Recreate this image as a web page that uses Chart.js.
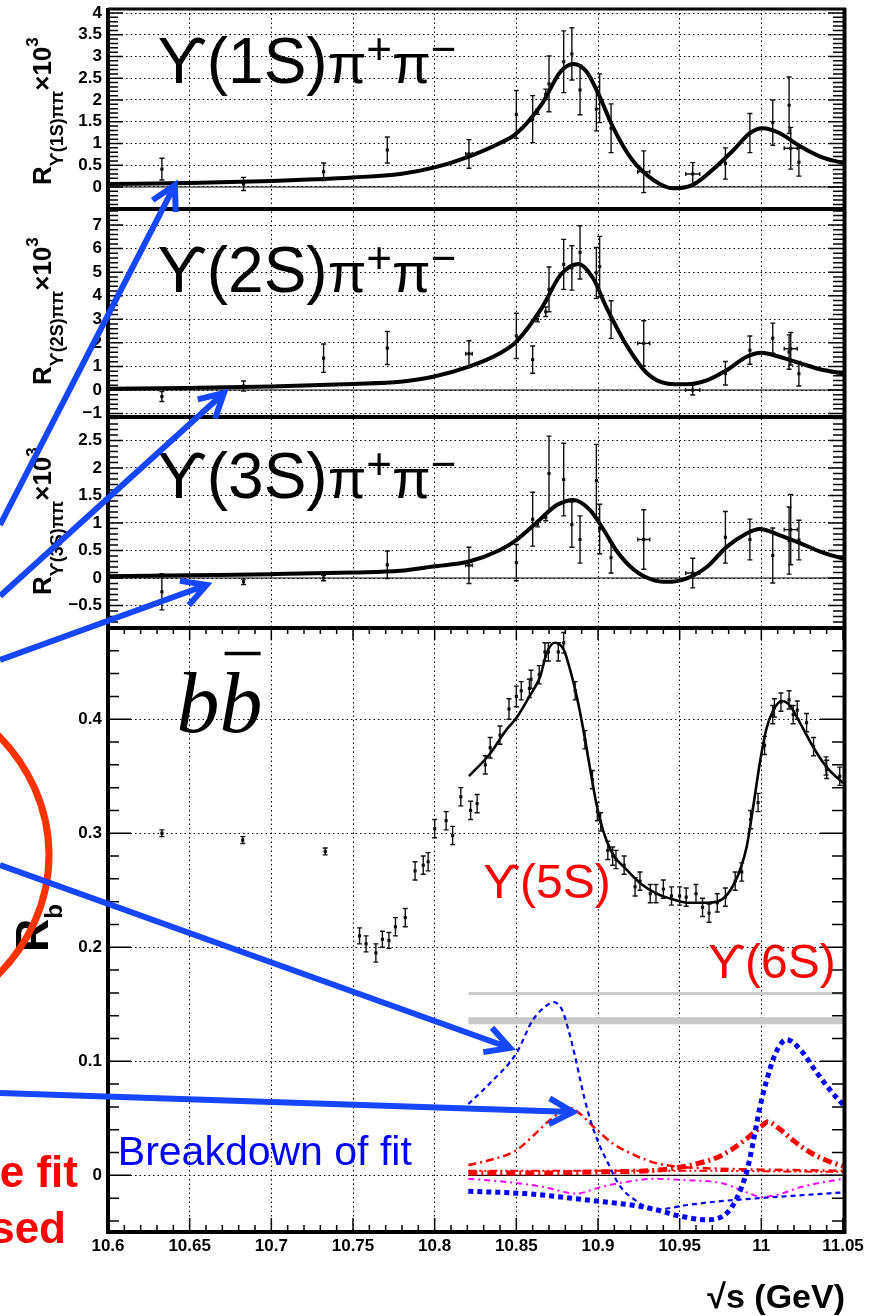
<!DOCTYPE html>
<html lang="en">
<head>
<meta charset="UTF-8" />
<title>Energy scan: R(Upsilon(nS) pi pi) and Rb</title>
<script src="https://cdn.jsdelivr.net/npm/chart.js"></script>
<style>
  body { margin: 0; background: #fff; }
  #wrap { position: relative; width: 884px; height: 1316px; }
</style>
</head>
<body>
<div id="wrap"><canvas id="scan" width="884" height="1316"></canvas></div>
<script>
// ---- data -------------------------------------------------------------
const xTicks = [10.6, 10.65, 10.7, 10.75, 10.8, 10.85, 10.9, 10.95, 11, 11.05];
const ticks1S = [0, 0.5, 1, 1.5, 2, 2.5, 3, 3.5, 4];
const ticks2S = [-1, 0, 1, 2, 3, 4, 5, 6, 7];
const ticks3S = [-0.5, 0, 0.5, 1, 1.5, 2, 2.5];
const ticksRb = [0, 0.1, 0.2, 0.3, 0.4];

// scan energies used for the pi pi channels (GeV)
const energy = [10.633, 10.683, 10.732, 10.771, 10.821, 10.850, 10.860, 10.863, 10.868, 10.870,
                10.879, 10.884, 10.889, 10.899, 10.901, 10.908, 10.928, 10.958, 10.978, 10.993,
                11.007, 11.017, 11.018, 11.023];
const energyErr = [0, 0, 0, 0, 0.002, 0, 0, 0, 0, 0, 0, 0, 0, 0, 0, 0, 0.0037, 0.0043, 0, 0, 0, 0, 0.004, 0];

const r1S = [0.41, 0.07, 0.35, 0.85, 0.76, 1.67, 1.56, 1.73, 2.13, 2.37, 2.88, 3.06, 2.23, 1.79, 2.04,
             1.35, 0.35, 0.30, 0.54, 1.24, 1.48, 1.88, 0.89, 0.57];
const r1SErr = [0.25, 0.15, 0.20, 0.30, 0.33, 0.55, 0.54, 0.06, 0.12, 0.64, 0.71, 0.60, 0.57, 0.50, 0.56,
                0.56, 0.48, 0.26, 0.36, 0.45, 0.52, 0.65, 0.48, 0.32];
const r2S = [-0.28, 0.17, 1.35, 1.78, 1.54, 2.30, 1.29, 3.01, 3.32, 4.27, 5.33, 5.18, 5.84, 4.97, 5.24,
             2.99, 1.98, 0.00, 0.71, 1.69, 2.20, 1.61, 1.75, 0.69];
const r2SErr = [0.21, 0.21, 0.60, 0.70, 0.55, 0.96, 0.58, 0.12, 0.20, 0.95, 1.06, 0.94, 1.13, 1.08, 1.28,
                0.80, 0.96, 0.21, 0.50, 0.60, 0.64, 0.73, 0.69, 0.52];
const r3S = [-0.25, -0.07, 0.00, 0.24, 0.23, 0.28, 1.07, 0.98, 1.10, 1.90, 1.79, 0.97, 0.70, 1.77, 0.89,
             0.37, 0.70, 0.09, 0.74, 0.70, 0.41, 0.68, 0.88, 0.69];
const r3SErr = [0.33, 0.05, 0.05, 0.25, 0.33, 0.33, 0.49, 0.05, 0.06, 0.68, 0.66, 0.41, 0.43, 0.66, 0.45,
                0.28, 0.54, 0.27, 0.47, 0.37, 0.50, 0.61, 0.64, 0.36];

// fitted line shapes for the pi pi channels
const fit1SX = [10.60, 10.65, 10.70, 10.75, 10.779, 10.80, 10.821, 10.840, 10.850, 10.866, 10.877, 10.885,
                10.893, 10.901, 10.909, 10.921, 10.934, 10.946, 10.958, 10.970, 10.983, 10.993, 11.001,
                11.011, 11.024, 11.036, 11.05];
const fit1S = [0.07, 0.09, 0.14, 0.22, 0.30, 0.45, 0.70, 1.01, 1.23, 1.93, 2.65, 2.83, 2.65, 2.08, 1.39,
               0.62, 0.16, -0.03, 0.05, 0.39, 0.85, 1.24, 1.35, 1.24, 0.93, 0.70, 0.55];
const fit2SX = [10.60, 10.65, 10.70, 10.75, 10.779, 10.799, 10.821, 10.840, 10.850, 10.866, 10.877, 10.888,
                10.897, 10.905, 10.918, 10.930, 10.942, 10.954, 10.967, 10.979, 10.991, 11.000, 11.011,
                11.024, 11.036, 11.05];
const fit2S = [0.05, 0.09, 0.15, 0.26, 0.35, 0.56, 0.99, 1.56, 2.05, 3.53, 4.88, 5.35, 4.74, 3.53, 1.84,
               0.71, 0.28, 0.24, 0.42, 0.85, 1.41, 1.58, 1.41, 1.13, 0.88, 0.70];
const fit3SX = [10.60, 10.65, 10.70, 10.75, 10.779, 10.799, 10.821, 10.840, 10.850, 10.864, 10.875, 10.885,
                10.895, 10.903, 10.911, 10.922, 10.934, 10.942, 10.954, 10.967, 10.979, 10.991, 10.999,
                11.011, 11.024, 11.036, 11.05];
const fit3S = [0.03, 0.05, 0.07, 0.10, 0.13, 0.21, 0.30, 0.51, 0.69, 1.05, 1.33, 1.42, 1.24, 0.90, 0.51,
               0.15, -0.04, -0.07, -0.01, 0.21, 0.57, 0.81, 0.89, 0.78, 0.63, 0.48, 0.35];

// Rb scan
const rbEnergy = [10.633, 10.6825, 10.733, 10.754, 10.758, 10.764, 10.768, 10.772, 10.776, 10.782,
                  10.788, 10.793, 10.796, 10.800, 10.807, 10.811, 10.816, 10.822, 10.826, 10.831,
                  10.834, 10.840, 10.8455, 10.850, 10.853, 10.858, 10.859, 10.864, 10.8675, 10.8696,
                  10.8757, 10.879, 10.886, 10.892, 10.8966, 10.8996, 10.9016, 10.906, 10.909, 10.911,
                  10.916, 10.9227, 10.9257, 10.932, 10.9355, 10.940, 10.945, 10.950, 10.954, 10.960,
                  10.964, 10.968, 10.973, 10.978, 10.984, 10.988, 10.9934, 10.998, 11.002, 11.007,
                  11.008, 11.012, 11.017, 11.0195, 11.022, 11.0277, 11.032, 11.0396, 11.040, 11.048];
const rb = [0.300, 0.294, 0.284, 0.210, 0.203, 0.195, 0.207, 0.206, 0.218, 0.226,
            0.267, 0.272, 0.275, 0.304, 0.311, 0.298, 0.332, 0.320, 0.326, 0.360,
            0.375, 0.386, 0.409, 0.420, 0.425, 0.427, 0.435, 0.439, 0.459, 0.459,
            0.459, 0.467, 0.425, 0.382, 0.347, 0.319, 0.310, 0.285, 0.280, 0.277,
            0.272, 0.253, 0.258, 0.247, 0.247, 0.251, 0.245, 0.245, 0.244, 0.247,
            0.235, 0.230, 0.239, 0.244, 0.258, 0.266, 0.312, 0.327, 0.377, 0.404,
            0.410, 0.415, 0.417, 0.404, 0.408, 0.397, 0.376, 0.359, 0.356, 0.350];
const rbErr = [0.003, 0.003, 0.003, 0.007, 0.007, 0.008, 0.007, 0.007, 0.008, 0.008,
               0.008, 0.008, 0.008, 0.008, 0.008, 0.008, 0.008, 0.008, 0.008, 0.008,
               0.009, 0.008, 0.009, 0.009, 0.008, 0.008, 0.008, 0.008, 0.008, 0.008,
               0.008, 0.009, 0.008, 0.008, 0.008, 0.008, 0.008, 0.008, 0.008, 0.008,
               0.008, 0.008, 0.008, 0.008, 0.008, 0.008, 0.008, 0.008, 0.008, 0.008,
               0.008, 0.008, 0.008, 0.008, 0.008, 0.008, 0.008, 0.008, 0.008, 0.008,
               0.008, 0.008, 0.008, 0.008, 0.008, 0.008, 0.008, 0.008, 0.008, 0.008];

const rbFitX = [10.821, 10.834, 10.844, 10.850, 10.858, 10.8645, 10.8686, 10.8737, 10.879, 10.883, 10.887,
                10.891, 10.895, 10.899, 10.903, 10.909, 10.9175, 10.926, 10.936, 10.946, 10.956, 10.9665,
                10.9747, 10.981, 10.987, 10.991, 10.995, 10.999, 11.003, 11.007, 11.0124, 11.0175, 11.024,
                11.032, 11.040, 11.05];
const rbFit = [0.350, 0.370, 0.391, 0.401, 0.420, 0.437, 0.458, 0.467, 0.461, 0.443, 0.420,
               0.391, 0.358, 0.326, 0.303, 0.282, 0.268, 0.256, 0.247, 0.242, 0.239, 0.239,
               0.241, 0.250, 0.268, 0.288, 0.323, 0.361, 0.391, 0.407, 0.416, 0.412, 0.396,
               0.375, 0.358, 0.344];

// fit breakdown
const comp5SX = [10.8206, 10.834, 10.850, 10.860, 10.8686, 10.8727, 10.878, 10.882, 10.886, 10.890, 10.894,
                 10.899, 10.9067, 10.913, 10.923, 10.935, 10.955, 10.9725, 11.003, 11.05];
const comp5S = [0.0625, 0.081, 0.107, 0.136, 0.149, 0.152, 0.145, 0.127, 0.104, 0.078, 0.055,
                0.033, 0.009, -0.0085, -0.022, -0.030, -0.026, -0.023, -0.0196, -0.015];
const comp6SX = [10.8206, 10.855, 10.896, 10.927, 10.935, 10.951, 10.967, 10.979, 10.985, 10.991, 10.995,
                 10.999, 11.003, 11.009, 11.0155, 11.024, 11.034, 11.042, 11.05];
const comp6S = [-0.014, -0.016, -0.022, -0.0275, -0.030, -0.036, -0.039, -0.033, -0.020, 0.003, 0.029,
                0.059, 0.082, 0.108, 0.119, 0.110, 0.090, 0.075, 0.062];
const int5SX = [10.8206, 10.834, 10.850, 10.862, 10.8706, 10.883, 10.889, 10.897, 10.909, 10.922, 10.936,
                10.950, 10.97, 11.0, 11.05];
const int5S = [0.009, 0.0134, 0.022, 0.037, 0.0485, 0.059, 0.054, 0.043, 0.028, 0.018, 0.0105,
               0.0075, 0.006, 0.005, 0.004];
const int6SX = [10.8206, 10.86, 10.90, 10.94, 10.96, 10.975, 10.99, 11.0, 11.004, 11.01, 11.02, 11.03, 11.04, 11.05];
const int6S = [0.002, 0.002, 0.003, 0.005, 0.010, 0.017, 0.031, 0.043, 0.047, 0.042, 0.030, 0.020, 0.013, 0.008];
const flatX = [10.8206, 10.95, 11.05];
const flat = [0.004, 0.004, 0.003];
const crossX = [10.8206, 10.845, 10.866, 10.887, 10.90, 10.916, 10.936, 10.95, 10.976, 10.993, 11.0, 11.01, 11.025, 11.05];
const cross = [-0.003, -0.006, -0.010, -0.016, -0.011, -0.006, -0.003, -0.004, -0.007, -0.016, -0.019, -0.017, -0.010, -0.003];

const bandX = [10.8206, 11.05];
const bandLevels = [0.1595, 0.1356];

// ---- panels -----------------------------------------------------------
const panels = [
  { id: 'y1', min: -0.506, max: 4.092, weight: 200, ticks: ticks1S, minor: 0.1, major: 0.5, len: [10, 15] },
  { id: 'y2', min: -1.145, max: 7.68, weight: 208, ticks: ticks2S, minor: 0.2, major: 1, len: [10, 15] },
  { id: 'y3', min: -0.909, max: 2.927, weight: 211, ticks: ticks3S, minor: 0.1, major: 0.5, len: [10, 15] },
  { id: 'yRb', min: -0.0497, max: 0.480, weight: 604, ticks: ticksRb, minor: 0.02, major: 0.1, len: [11, 23] }
];

const FONT = 'Liberation Sans';
const UPS = '\u03D2';
const fmt = v => (v < 0 ? '\u2212' : '') + String(Math.abs(Math.round(v * 100) / 100));
const pts = (xs, ys) => xs.map((x, i) => ({ x, y: ys[i] }));

const datasets = [];
function addPoints(axis, xs, ys, errY, errX) {
  datasets.push({ type: 'scatter', yAxisID: axis, data: pts(xs, ys), errY, errX,
    pointStyle: 'rect', pointRadius: 2.2, backgroundColor: '#000', borderWidth: 0, order: 0 });
}
function addCurve(axis, xs, ys, color, width, dash, order) {
  datasets.push({ type: 'line', yAxisID: axis, data: pts(xs, ys), borderColor: color, borderWidth: width,
    borderDash: dash, pointRadius: 0, fill: false, cubicInterpolationMode: 'monotone', order });
}

addPoints('y1', energy, r1S, r1SErr, energyErr);
addPoints('y2', energy, r2S, r2SErr, energyErr);
addPoints('y3', energy, r3S, r3SErr, energyErr);
addPoints('yRb', rbEnergy, rb, rbErr, null);

addCurve('y1', fit1SX, fit1S, '#000', 4, [], 1);
addCurve('y2', fit2SX, fit2S, '#000', 4, [], 1);
addCurve('y3', fit3SX, fit3S, '#000', 4, [], 1);
addCurve('yRb', rbFitX, rbFit, '#000', 2.6, [], 1);

addCurve('y1', [10.6, 11.05], [0, 0], '#000', 1.2, [], 3);
addCurve('y2', [10.6, 11.05], [0, 0], '#000', 1.2, [], 3);
addCurve('y3', [10.6, 11.05], [0, 0], '#000', 1.2, [], 3);
addCurve('yRb', [10.8206, 11.05], [0, 0], '#000', 1.2, [], 3);

addCurve('yRb', comp5SX, comp5S, '#0000ff', 2.2, [5, 4], 2);
addCurve('yRb', comp6SX, comp6S, '#0000ff', 5, [5, 4], 2);
addCurve('yRb', int5SX, int5S, '#ff0000', 2.5, [8, 4, 2, 4], 2);
addCurve('yRb', int6SX, int6S, '#ff0000', 5, [9, 4, 2, 4], 2);
addCurve('yRb', flatX, flat, '#ff0000', 2, [8, 3, 2, 3, 2, 3], 2);
addCurve('yRb', crossX, cross, '#ff00ff', 2, [6, 4, 2, 4], 2);

addCurve('yRb', bandX, [bandLevels[0], bandLevels[0]], '#cccccc', 3, [], 4);
addCurve('yRb', bandX, [bandLevels[1], bandLevels[1]], '#c8c8c8', 7, [], 4);

// ---- scales -----------------------------------------------------------
const scales = {
  x: {
    type: 'linear', position: 'bottom', min: 10.6, max: 11.05,
    afterBuildTicks: s => { s.ticks = xTicks.map(v => ({ value: v })); },
    afterFit: s => { s.height = 80; s.paddingLeft = 0; s.paddingRight = 0; },
    ticks: { autoSkip: false, maxRotation: 0, padding: 4, color: '#000',
      font: { family: FONT, weight: 'bold', size: 17 }, callback: v => fmt(v) },
    grid: { color: '#000', lineWidth: 1, drawTicks: false },
    border: { display: false, dash: [1.5, 3] }
  }
};
// bottom panel first: the last left-hand scale is stacked at the top
panels.slice().reverse().forEach((p, i) => {
  scales[p.id] = {
    type: 'linear', position: 'left', stack: 'panels', stackWeight: p.weight, weight: i,
    min: p.min, max: p.max,
    afterBuildTicks: s => { s.ticks = p.ticks.map(v => ({ value: v })); },
    // no extra room for the end labels, the frame sits at the layout padding
    afterFit: s => { s.width = 100; s.paddingTop = 0; s.paddingBottom = 0; },
    ticks: { autoSkip: false, padding: 6, color: '#000',
      font: { family: FONT, weight: 'bold', size: 17 }, callback: v => fmt(v) },
    grid: { color: '#000', lineWidth: 1, drawTicks: false },
    border: { display: false, dash: [1.5, 3] }
  };
});

// ---- plugins ----------------------------------------------------------
const framePlugin = {
  id: 'frame',
  afterDatasetsDraw(chart) {
    const { ctx, chartArea: a, scales: sc } = chart;
    const xs = sc.x;
    ctx.save();

    // error bars
    ctx.strokeStyle = '#111';
    ctx.lineWidth = 1.4;
    chart.data.datasets.forEach(ds => {
      if (!ds.errY) return;
      const ys = sc[ds.yAxisID];
      ds.data.forEach((p, j) => {
        const px = xs.getPixelForValue(p.x);
        const lo = ys.getPixelForValue(p.y - ds.errY[j]);
        const hi = ys.getPixelForValue(p.y + ds.errY[j]);
        ctx.beginPath();
        ctx.moveTo(px, lo); ctx.lineTo(px, hi);
        ctx.moveTo(px - 2.5, lo); ctx.lineTo(px + 2.5, lo);
        ctx.moveTo(px - 2.5, hi); ctx.lineTo(px + 2.5, hi);
        if (ds.errX && ds.errX[j]) {
          const py = ys.getPixelForValue(p.y);
          const l = xs.getPixelForValue(p.x - ds.errX[j]);
          const r = xs.getPixelForValue(p.x + ds.errX[j]);
          ctx.moveTo(l, py); ctx.lineTo(r, py);
          ctx.moveTo(l, py - 2); ctx.lineTo(l, py + 2);
          ctx.moveTo(r, py - 2); ctx.lineTo(r, py + 2);
        }
        ctx.stroke();
      });
    });

    // tick marks inside the frames
    ctx.strokeStyle = '#000';
    ctx.lineWidth = 1.5;
    panels.forEach(p => {
      const s = sc[p.id];
      const k0 = Math.ceil(p.min / p.minor - 1e-6), k1 = Math.floor(p.max / p.minor + 1e-6);
      ctx.beginPath();
      for (let k = k0; k <= k1; k++) {
        const v = k * p.minor;
        const isMajor = Math.abs(v / p.major - Math.round(v / p.major)) < 1e-6;
        const L = isMajor ? p.len[1] : p.len[0];
        const y = s.getPixelForValue(v);
        ctx.moveTo(a.left, y); ctx.lineTo(a.left + L, y);
        ctx.moveTo(a.right, y); ctx.lineTo(a.right - L, y);
      }
      ctx.stroke();
    });
    const rbTop = sc.yRb.top;
    ctx.beginPath();
    for (let k = 0; k <= 45; k++) {
      const x = xs.getPixelForValue(10.6 + k * 0.01);
      const major = k % 5 === 0;
      ctx.moveTo(x, a.bottom); ctx.lineTo(x, a.bottom - (major ? 14 : 7));
      ctx.moveTo(x, rbTop); ctx.lineTo(x, rbTop + (major ? 12 : 6));
    }
    ctx.stroke();

    // frame and panel separators
    ctx.lineWidth = 4;
    ctx.beginPath();
    ctx.moveTo(a.left, a.top - 1); ctx.lineTo(a.left, a.bottom + 2);
    ctx.moveTo(a.right + 1.5, a.top - 1); ctx.lineTo(a.right + 1.5, a.bottom + 2);
    ctx.moveTo(a.left - 2, a.bottom); ctx.lineTo(a.right + 3.5, a.bottom);
    ctx.stroke();
    ctx.lineWidth = 3;
    ctx.beginPath();
    ctx.moveTo(a.left, a.top); ctx.lineTo(a.right + 3, a.top);
    ctx.stroke();
    ctx.lineWidth = 4;
    ctx.beginPath();
    ['y2', 'y3', 'yRb'].forEach(id => {
      ctx.moveTo(a.left, sc[id].top); ctx.lineTo(a.right + 3, sc[id].top);
    });
    ctx.stroke();
    ctx.restore();
  }
};

// text pieces drawn one after another along a (possibly rotated) baseline
function drawRuns(ctx, x, y, runs, angle) {
  ctx.save();
  ctx.translate(x, y);
  if (angle) ctx.rotate(angle);
  ctx.textBaseline = 'alphabetic';
  ctx.textAlign = 'left';
  let cx = 0;
  runs.forEach(([text, font, dy]) => {
    ctx.font = font;
    ctx.fillText(text, cx, dy);
    cx += ctx.measureText(text).width;
  });
  ctx.restore();
}

function arrow(ctx, x0, y0, x1, y1) {
  const ang = Math.atan2(y1 - y0, x1 - x0);
  const L = 27, spread = 0.5;
  ctx.beginPath();
  ctx.moveTo(x0, y0); ctx.lineTo(x1, y1);
  ctx.moveTo(x1 - L * Math.cos(ang - spread), y1 - L * Math.sin(ang - spread));
  ctx.lineTo(x1, y1);
  ctx.lineTo(x1 - L * Math.cos(ang + spread), y1 - L * Math.sin(ang + spread));
  ctx.stroke();
}

const channelTitles = [
  { axis: 'y1', x: 10.6302, y: 2.39, n: '1S', shift: 24 },
  { axis: 'y2', x: 10.6302, y: 4.17, n: '2S', shift: 32 },
  { axis: 'y3', x: 10.6302, y: 1.45, n: '3S', shift: 33 }
];
// arrow tips in data coordinates, tails on the left page edge
const arrowTips = [
  { axis: 'y1', x: 10.641, y: 0.046, tail: 525 },
  { axis: 'y2', x: 10.671, y: -0.127, tail: 596 },
  { axis: 'y3', x: 10.6604, y: -0.127, tail: 660 },
  { axis: 'yRb', x: 10.8461, y: 0.1117, tail: 865 },
  { axis: 'yRb', x: 10.8847, y: 0.0555, tail: 1093 }
];

const labelPlugin = {
  id: 'labels',
  afterDraw(chart) {
    const { ctx, chartArea: a, scales: sc } = chart;
    const X = v => sc.x.getPixelForValue(v);
    const big = `"${FONT}", "DejaVu Sans"`;
    ctx.save();
    ctx.fillStyle = '#000';

    channelTitles.forEach(t => {
      const y = sc[t.axis].getPixelForValue(t.y);
      drawRuns(ctx, X(t.x), y, [
        [UPS + '(' + t.n + ')', `64px ${big}`, 0],
        ['\u03C0', `56px ${big}`, 0],
        ['+', `44px ${big}`, -19],
        ['\u03C0', `56px ${big}`, 0],
        ['\u2212', `44px ${big}`, -19]
      ]);
      // rotated axis title
      drawRuns(ctx, 51, sc[t.axis].bottom - t.shift, [
        ['R', `bold 26px ${big}`, 0],
        [UPS + '(' + t.n + ')\u03C0\u03C0', `bold 18px ${big}`, 12],
        ['\u00D710', `bold 26px ${big}`, 0],
        ['3', `bold 17px ${big}`, -13]
      ], -Math.PI / 2);
    });

    // b b-bar
    const yb = sc.yRb.getPixelForValue(0.389);
    const xb = X(10.642);
    ctx.font = `italic 86px "Liberation Serif"`;
    ctx.fillText('bb', xb, yb);
    const wb = ctx.measureText('b').width;
    ctx.fillRect(xb + wb + 5, yb - 80, 36, 3.5);

    drawRuns(ctx, 48, 952, [['R', `bold 46px ${big}`, 0], ['b', `bold 24px ${big}`, 14]], -Math.PI / 2);

    ctx.font = `bold 34px ${big}`;
    ctx.textAlign = 'right';
    ctx.fillText('\u221As (GeV)', a.right + 2, a.bottom + 76);
    ctx.textAlign = 'left';

    ctx.fillStyle = '#ff0000';
    ctx.font = `48px ${big}`;
    ctx.fillText(UPS + '(5S)', X(10.8296), sc.yRb.getPixelForValue(0.2432));
    ctx.fillText(UPS + '(6S)', X(10.9673), sc.yRb.getPixelForValue(0.173));
    ctx.fillStyle = '#0000ff';
    ctx.font = `41px ${big}`;
    ctx.fillText('Breakdown of fit', X(10.606), sc.yRb.getPixelForValue(0.009));

    ctx.fillStyle = '#ff0000';
    ctx.font = `bold 44px ${big}`;
    ctx.textAlign = 'right';
    ctx.fillText('e fit', 78, 1187);
    ctx.fillText('sed', 66, 1243);

    ctx.strokeStyle = '#ff3300';
    ctx.lineWidth = 7;
    ctx.beginPath();
    ctx.ellipse(-157, 855, 206, 182, 0, 0, Math.PI * 2);
    ctx.stroke();

    ctx.strokeStyle = '#1646ff';
    ctx.lineWidth = 6;
    ctx.lineJoin = 'miter';
    arrowTips.forEach(t => arrow(ctx, 0, t.tail, X(t.x), sc[t.axis].getPixelForValue(t.y)));
    ctx.restore();
  }
};

new Chart(document.getElementById('scan').getContext('2d'), {
  type: 'scatter',
  data: { datasets },
  options: {
    responsive: false,
    animation: false,
    events: [],
    layout: { padding: { left: 8, right: 41, top: 9, bottom: 4 } },
    plugins: { legend: { display: false }, tooltip: { enabled: false } },
    scales
  },
  plugins: [framePlugin, labelPlugin]
});
</script>
</body>
</html>
